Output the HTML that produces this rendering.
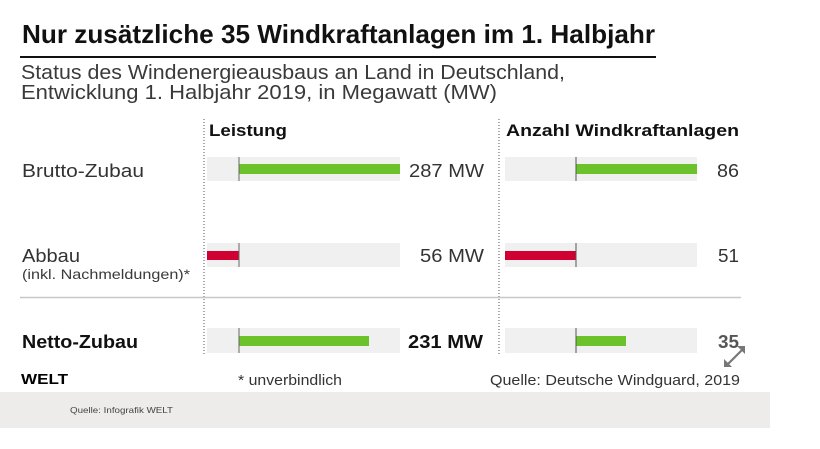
<!DOCTYPE html>
<html><head><meta charset="utf-8"><style>
html,body{margin:0;padding:0;background:#fff;}
svg{display:block;font-family:"Liberation Sans",sans-serif;}
</style></head><body>
<svg width="820" height="449" viewBox="0 0 820 449" xmlns="http://www.w3.org/2000/svg">
<rect width="820" height="449" fill="#fff"/>
<text x="22" y="43" font-size="26" font-weight="bold" fill="#111" textLength="633" lengthAdjust="spacingAndGlyphs">Nur zusätzliche 35 Windkraftanlagen im 1. Halbjahr</text>
<rect x="20" y="56" width="636" height="2" fill="#111"/>
<text x="21" y="79" font-size="20.5" fill="#3a3a3a" textLength="544" lengthAdjust="spacingAndGlyphs">Status des Windenergieausbaus an Land in Deutschland,</text>
<text x="21" y="99" font-size="20.5" fill="#3a3a3a" textLength="476" lengthAdjust="spacingAndGlyphs">Entwicklung 1. Halbjahr 2019, in Megawatt (MW)</text>

<line x1="204" y1="119" x2="204" y2="355" stroke="#555" stroke-width="1" stroke-dasharray="1,2"/>
<line x1="499" y1="119" x2="499" y2="355" stroke="#555" stroke-width="1" stroke-dasharray="1,2"/>

<text x="209" y="136" font-size="17" font-weight="bold" fill="#111" textLength="78" lengthAdjust="spacingAndGlyphs">Leistung</text>
<text x="506" y="136" font-size="17" font-weight="bold" fill="#111" textLength="233" lengthAdjust="spacingAndGlyphs">Anzahl Windkraftanlagen</text>

<!-- Row 1 -->
<text x="22" y="177" font-size="18" fill="#333" textLength="122" lengthAdjust="spacingAndGlyphs">Brutto-Zubau</text>
<rect x="207" y="157" width="193" height="24" fill="#f0f0f0"/>
<rect x="239" y="164" width="161" height="10" fill="#6cc22a"/>
<rect x="238.5" y="157" width="1" height="24" fill="#666"/>
<text x="409" y="177" font-size="18" fill="#333" textLength="75" lengthAdjust="spacingAndGlyphs">287 MW</text>
<rect x="505" y="157" width="192" height="24" fill="#f0f0f0"/>
<rect x="576" y="164" width="121" height="10" fill="#6cc22a"/>
<rect x="575.5" y="157" width="1" height="24" fill="#555"/>
<text x="717" y="177" font-size="18" fill="#333" textLength="22" lengthAdjust="spacingAndGlyphs">86</text>

<!-- Row 2 -->
<text x="22" y="262" font-size="18.5" fill="#333" textLength="58" lengthAdjust="spacingAndGlyphs">Abbau</text>
<text x="22" y="279" font-size="14" fill="#3a3a3a" textLength="168" lengthAdjust="spacingAndGlyphs">(inkl. Nachmeldungen)*</text>
<rect x="207" y="243" width="193" height="24" fill="#f0f0f0"/>
<rect x="207" y="251" width="32" height="9" fill="#d10032"/>
<rect x="238.5" y="243" width="1" height="24" fill="#666"/>
<text x="420" y="262" font-size="18" fill="#333" textLength="64" lengthAdjust="spacingAndGlyphs">56 MW</text>
<rect x="505" y="243" width="192" height="24" fill="#f0f0f0"/>
<rect x="505" y="251" width="71" height="9" fill="#d10032"/>
<rect x="575.5" y="243" width="1" height="24" fill="#555"/>
<text x="718" y="262" font-size="18" fill="#333" textLength="21" lengthAdjust="spacingAndGlyphs">51</text>

<line x1="20" y1="297.5" x2="741" y2="297.5" stroke="#c8c8c8" stroke-width="1.5"/>

<!-- Row 3 -->
<text x="22" y="348" font-size="18" font-weight="bold" fill="#111" textLength="116" lengthAdjust="spacingAndGlyphs">Netto-Zubau</text>
<rect x="207" y="328" width="193" height="25" fill="#f0f0f0"/>
<rect x="239" y="336" width="130" height="10" fill="#6cc22a"/>
<rect x="238.5" y="328" width="1" height="25" fill="#666"/>
<text x="408" y="348" font-size="18" font-weight="bold" fill="#111" textLength="75" lengthAdjust="spacingAndGlyphs">231 MW</text>
<rect x="505" y="328" width="192" height="25" fill="#f0f0f0"/>
<rect x="576" y="336" width="50" height="10" fill="#6cc22a"/>
<rect x="575.5" y="328" width="1" height="25" fill="#555"/>
<text x="718" y="348" font-size="18" font-weight="bold" fill="#555" textLength="21" lengthAdjust="spacingAndGlyphs">35</text>

<!-- expand icon -->
<g stroke="#777" stroke-width="2.2" fill="#777">
<line x1="728" y1="364" x2="742" y2="350"/>
<polygon points="745,346 745,354 737,346" stroke="none"/>
<polygon points="724,367 724,359 732,367" stroke="none"/>
</g>

<text x="21" y="384" font-size="15" font-weight="bold" fill="#000" textLength="47" lengthAdjust="spacingAndGlyphs">WELT</text>
<text x="238" y="385" font-size="15" fill="#333" textLength="104" lengthAdjust="spacingAndGlyphs">* unverbindlich</text>
<text x="490" y="385" font-size="15" fill="#333" textLength="250" lengthAdjust="spacingAndGlyphs">Quelle: Deutsche Windguard, 2019</text>

<rect x="0" y="392" width="770" height="36" fill="#edecea"/>
<text x="70" y="413" font-size="8.5" fill="#444" textLength="103" lengthAdjust="spacingAndGlyphs">Quelle: Infografik WELT</text>
</svg>
</body></html>
